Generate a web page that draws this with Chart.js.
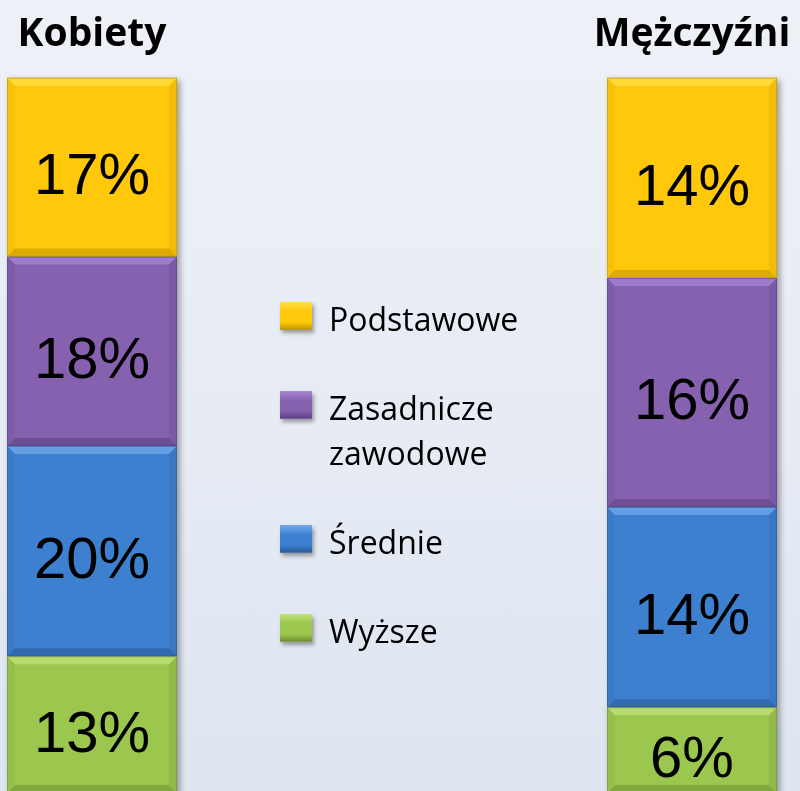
<!DOCTYPE html>
<html>
<head>
<meta charset="utf-8">
<script src="https://cdn.jsdelivr.net/npm/chart.js@4"></script>
<style>
  html, body { margin: 0; padding: 0; }
  body {
    width: 800px; height: 791px; overflow: hidden; position: relative;
    background: linear-gradient(to bottom, #eef1f7 0%, #e6ebf4 55%, #dee5f0 100%);
    font-family: "Open Sans", sans-serif;
  }
  #wrap { position: absolute; left: -8px; top: 0; width: 800px; height: 793px; }
  #legend { position: absolute; left: 280px; top: 296px; width: 250px; }
  .item { display: flex; align-items: flex-start; margin-bottom: 44px; }
  .box { width: 32px; height: 27px; margin-top: 6px; margin-right: 17px; flex: none;
         box-shadow: 2px 3px 4px rgba(0,0,0,0.35); border-bottom: 1px solid rgba(0,0,0,0.3); }
  .txt { font-size: 32px; line-height: 45px; color: #000; width: 195px; }
</style>
</head>
<body>
<div id="wrap"><canvas id="chart"></canvas></div>
<div id="legend"></div>
<script>
// grupy i poziomy wykształcenia (od dołu słupka)
var groups = ['Kobiety', 'Mężczyźni'];
var levels = ['Wyższe', 'Średnie', 'Zasadnicze zawodowe', 'Podstawowe'];
var kobiety = [13, 20, 18, 17];
var mezczyzni = [6, 14, 16, 14];
var colors = ['#9cc74f', '#3e80d0', '#8561b0', '#ffc80a'];
var lightColors = ['#c2e27a', '#72aaea', '#a687d4', '#ffe04a'];
var darkColors = ['#6f9233', '#2b5c9a', '#5d4384', '#c79800'];

function sum(a) { return a.reduce(function (s, v) { return s + v; }, 0); }

// each bar is shown as a 100% column
var totK = sum(kobiety), totM = sum(mezczyzni);

var datasets = levels.map(function (lvl, i) {
    return {
        label: lvl,
        data: [kobiety[i] / totK * 100, null, null, mezczyzni[i] / totM * 100],
        raw: [kobiety[i], null, null, mezczyzni[i]],
        backgroundColor: colors[i],
        light: lightColors[i],
        dark: darkColors[i],
        borderWidth: 0,
        categoryPercentage: 1,
        barPercentage: 0.85
    };
});

var shadowPlugin = {
    id: 'shadow',
    beforeDatasetsDraw: function (chart) {
        var ctx = chart.ctx;
        var first = chart.getDatasetMeta(0).data;
        var last = chart.getDatasetMeta(datasets.length - 1).data;
        ctx.save();
        [0, 3].forEach(function (i) {
            var b = first[i], t = last[i];
            if (!b || !t) return;
            var x0 = b.x - b.width / 2;
            ctx.shadowColor = 'rgba(0,0,0,0.35)';
            ctx.shadowBlur = 6;
            ctx.shadowOffsetX = 3;
            ctx.shadowOffsetY = 2;
            ctx.fillStyle = '#888';
            ctx.fillRect(x0, t.y, b.width, b.base - t.y);
        });
        ctx.restore();
    }
};

var bevelPlugin = {
    id: 'bevel',
    afterDatasetsDraw: function (chart) {
        var ctx = chart.ctx;
        var bv = 8;
        chart.data.datasets.forEach(function (ds, di) {
            chart.getDatasetMeta(di).data.forEach(function (el, i) {
                if (ds.data[i] == null) return;
                var l = el.x - el.width / 2, r = el.x + el.width / 2;
                var t = el.y, b = el.base;
                ctx.save();
                // top
                ctx.fillStyle = ds.light;
                ctx.globalAlpha = 0.75;
                ctx.beginPath();
                ctx.moveTo(l, t); ctx.lineTo(r, t); ctx.lineTo(r - bv, t + bv); ctx.lineTo(l + bv, t + bv);
                ctx.closePath(); ctx.fill();
                // bottom
                ctx.fillStyle = ds.dark;
                ctx.globalAlpha = 0.6;
                ctx.beginPath();
                ctx.moveTo(l, b); ctx.lineTo(r, b); ctx.lineTo(r - bv, b - bv); ctx.lineTo(l + bv, b - bv);
                ctx.closePath(); ctx.fill();
                // sides
                ctx.globalAlpha = 0.25;
                ctx.beginPath();
                ctx.moveTo(r, t); ctx.lineTo(r, b); ctx.lineTo(r - bv, b - bv); ctx.lineTo(r - bv, t + bv);
                ctx.closePath(); ctx.fill();
                ctx.globalAlpha = 0.15;
                ctx.beginPath();
                ctx.moveTo(l, t); ctx.lineTo(l, b); ctx.lineTo(l + bv, b - bv); ctx.lineTo(l + bv, t + bv);
                ctx.closePath(); ctx.fill();
                // outline
                ctx.globalAlpha = 0.6;
                ctx.strokeStyle = ds.dark;
                ctx.lineWidth = 1;
                ctx.strokeRect(l + 0.5, t + 0.5, el.width - 1, b - t - 1);
                ctx.restore();
            });
        });
    }
};

var labelPlugin = {
    id: 'labels',
    afterDatasetsDraw: function (chart) {
        var ctx = chart.ctx;
        ctx.save();
        ctx.font = '58px "Liberation Sans", Arial, sans-serif';
        ctx.fillStyle = '#000';
        ctx.textAlign = 'center';
        ctx.textBaseline = 'middle';
        chart.data.datasets.forEach(function (ds, di) {
            chart.getDatasetMeta(di).data.forEach(function (el, i) {
                if (ds.raw[i] == null) return;
                ctx.fillText(ds.raw[i] + '%', el.x, (el.y + el.base) / 2 + 11);
            });
        });
        ctx.restore();
    }
};

var chart = new Chart(document.getElementById('chart').getContext('2d'), {
    type: 'bar',
    data: {
        labels: [groups[0], '', '', groups[1]],
        datasets: datasets
    },
    options: {
        responsive: true,
        maintainAspectRatio: false,
        animation: false,
        layout: { padding: { top: 11, left: 0, right: 0, bottom: 0 } },
        plugins: {
            legend: { display: false },
            tooltip: { enabled: false }
        },
        scales: {
            x: {
                stacked: true,
                position: 'top',
                grid: { display: false, drawTicks: true, tickLength: 20 },
                border: { display: false },
                ticks: {
                    padding: 0,
                    autoSkip: false,
                    maxRotation: 0,
                    minRotation: 0,
                    color: '#000',
                    font: { family: 'Open Sans', weight: 'bold', size: 39 }
                }
            },
            y: {
                stacked: true,
                display: false,
                min: 0,
                max: 100
            }
        }
    },
    plugins: [shadowPlugin, bevelPlugin, labelPlugin]
});

// legend from the chart's own datasets, top level first
var legend = document.getElementById('legend');
chart.data.datasets.slice().reverse().forEach(function (ds) {
    var item = document.createElement('div');
    item.className = 'item';
    var box = document.createElement('div');
    box.className = 'box';
    box.style.background = 'linear-gradient(to bottom, ' + ds.light + ', ' + ds.backgroundColor + ' 35%, ' + ds.backgroundColor + ' 75%, ' + ds.dark + ')';
    var txt = document.createElement('div');
    txt.className = 'txt';
    txt.textContent = ds.label;
    item.appendChild(box);
    item.appendChild(txt);
    legend.appendChild(item);
});
</script>
</body>
</html>
